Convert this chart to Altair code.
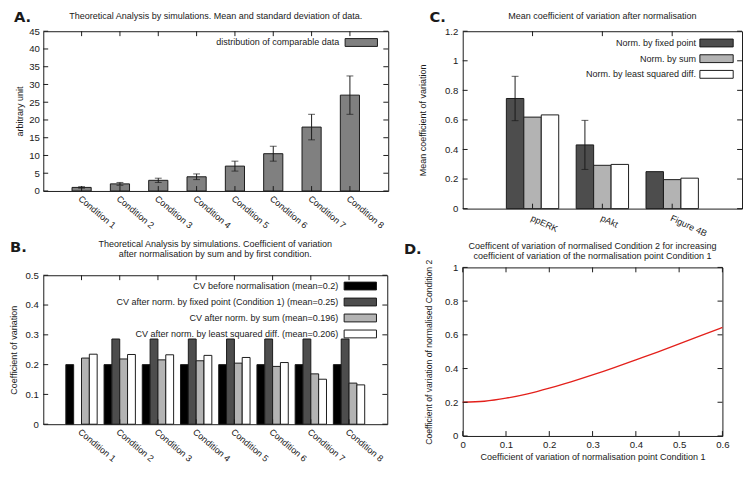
import json
import altair as alt
import pandas as pd

FONT = "Liberation Sans"
LETTER_FONT = "DejaVu Sans"
INK = "#1a1a1a"
TXT = 9.2

# ---------------- Panel A data ----------------
conditions = ["Condition 1", "Condition 2", "Condition 3", "Condition 4",
              "Condition 5", "Condition 6", "Condition 7", "Condition 8"]
a_mean = [1.0, 2.0, 3.0, 4.0, 7.0, 10.5, 18.0, 27.0]
a_sd = [0.2, 0.4, 0.6, 0.8, 1.4, 2.1, 3.6, 5.4]
a_yticks = [0, 5, 10, 15, 20, 25, 30, 35, 40, 45]
a_legend = ["distribution of comparable data"]
a_colors = ["#808080"]
a_title = "Theoretical Analysis by simulations. Mean and standard deviation of data."

# ---------------- Panel B data ----------------
b_series = ["CV before normalisation (mean=0.2)",
            "CV after norm. by fixed point (Condition 1) (mean=0.25)",
            "CV after norm. by sum (mean=0.196)",
            "CV after norm. by least squared diff. (mean=0.206)"]
b_before = [0.200, 0.200, 0.200, 0.200, 0.200, 0.200, 0.200, 0.200]
b_fixed = [None, 0.286, 0.286, 0.286, 0.286, 0.286, 0.286, 0.286]
b_sum = [0.222, 0.219, 0.216, 0.213, 0.205, 0.194, 0.169, 0.138]
b_lsq = [0.235, 0.234, 0.233, 0.231, 0.224, 0.207, 0.151, 0.132]
b_colors = ["#000000", "#4d4d4d", "#b3b3b3", "#ffffff"]
b_yticks = [0, 0.1, 0.2, 0.3, 0.4, 0.5]
b_title = ["Theoretical Analysis by simulations. Coefficient of variation",
           "after normalisation by sum and by first condition."]

# ---------------- Panel C data ----------------
c_groups = ["ppERK", "pAkt", "Figure 4B"]
c_series = ["Norm. by fixed point", "Norm. by sum", "Norm. by least squared diff."]
c_fixed = [0.745, 0.431, 0.250]
c_fixed_sd = [0.150, 0.166, 0.0]
c_sum = [0.619, 0.293, 0.196]
c_lsq = [0.634, 0.299, 0.206]
c_colors = ["#4d4d4d", "#b3b3b3", "#ffffff"]
c_yticks = [0, 0.2, 0.4, 0.6, 0.8, 1.0, 1.2]
c_title = "Mean coefficient of variation after normalisation"

# ---------------- Panel D data ----------------
d_x = [0.00, 0.05, 0.10, 0.15, 0.20, 0.25, 0.30, 0.35, 0.40, 0.45, 0.50, 0.55, 0.60]
d_y = [0.200, 0.206, 0.224, 0.250, 0.284, 0.321, 0.362, 0.406, 0.452, 0.498, 0.546, 0.595, 0.644]
d_xticks = [0, 0.1, 0.2, 0.3, 0.4, 0.5, 0.6]
d_yticks = [0, 0.2, 0.4, 0.6, 0.8, 1.0]
d_title = ["Coefficent of variation of normalised Condition 2 for increasing",
           "coefficient of variation of the normalisation point Condition 1"]

ONE = pd.DataFrame({"k": [0]})


def text_layer(text, x, y, size=TXT, weight="normal", align="center", font=FONT, line_height=10):
    return alt.Chart(ONE).mark_text(
        text=text, align=align, baseline="middle", fontSize=size, fontWeight=weight,
        font=font, color=INK, lineHeight=line_height
    ).encode(x=alt.value(x), y=alt.value(y))


def legend_layers(names, colors, W, text_right, box_l, box_r, y0, dy, size=TXT):
    out = []
    for i, (n, c) in enumerate(zip(names, colors)):
        yc = y0 + i * dy
        out.append(text_layer(n, W - text_right, yc, size=size, align="right"))
        out.append(alt.Chart(ONE).mark_rect(fill=c, stroke=INK, strokeWidth=1).encode(
            x=alt.value(W - box_l), x2=alt.value(W - box_r),
            y=alt.value(yc - 4), y2=alt.value(yc + 4)))
    return out


def frame_ticks(x_df, x_enc, y_df, y_enc, W, H, L=5):
    r = dict(color=INK, strokeWidth=1)
    return [
        alt.Chart(x_df).mark_rule(**r).encode(x=x_enc, y=alt.value(H - L), y2=alt.value(H)),
        alt.Chart(x_df).mark_rule(**r).encode(x=x_enc, y=alt.value(0), y2=alt.value(L)),
        alt.Chart(y_df).mark_rule(**r).encode(y=y_enc, x=alt.value(0), x2=alt.value(L)),
        alt.Chart(y_df).mark_rule(**r).encode(y=y_enc, x=alt.value(W - L), x2=alt.value(W)),
    ]


def cat_axis(names, angle, padding, size=TXT):
    return alt.Axis(values=list(range(1, len(names) + 1)), title=None,
                    labelExpr=json.dumps(names) + "[datum.value - 1]",
                    labelAngle=angle, labelAlign="left", labelBaseline="top",
                    labelPadding=padding, labelOverlap=False, labelFlush=False,
                    labelFontSize=size)


# ======================= Panel A =======================
WA, HA = 352, 163
a_pos = list(range(1, len(conditions) + 1))
a_half = 0.25
dfA = pd.DataFrame({"pos": a_pos, "val": a_mean,
                    "x0": [p - a_half for p in a_pos], "x1": [p + a_half for p in a_pos],
                    "lo": [m - s for m, s in zip(a_mean, a_sd)],
                    "hi": [m + s for m, s in zip(a_mean, a_sd)]})
xA_scale = alt.Scale(domain=[0, len(conditions) + 1], nice=False, zero=False)
xA_axis = cat_axis(conditions, 40, 3)
yA_scale = alt.Scale(domain=[0, 45], nice=False)
yA_axis = alt.Axis(values=a_yticks, format="~g", title="arbitrary unit", titlePadding=4,
                   labelPadding=4, labelFlush=False)
yA = lambda f: alt.Y(f, scale=yA_scale, axis=yA_axis)
xA = lambda f: alt.X(f, scale=xA_scale, axis=xA_axis)

A_layers = [
    alt.Chart(dfA).mark_rect(color=a_colors[0], stroke=INK, strokeWidth=1).encode(
        x=xA("x0:Q"), x2="x1:Q", y=yA("val:Q"), y2=alt.datum(0)),
    alt.Chart(dfA).mark_rule(color=INK, strokeWidth=1).encode(
        x=xA("pos:Q"), y=yA("lo:Q"), y2="hi:Q"),
    alt.Chart(dfA).mark_tick(color=INK, size=7, thickness=1, orient="horizontal").encode(
        x=xA("pos:Q"), y=yA("lo:Q")),
    alt.Chart(dfA).mark_tick(color=INK, size=7, thickness=1, orient="horizontal").encode(
        x=xA("pos:Q"), y=yA("hi:Q")),
]
A_layers += frame_ticks(pd.DataFrame({"pos": a_pos}), xA("pos:Q"),
                        pd.DataFrame({"val": a_yticks}), yA("val:Q"), WA, HA)
A_layers += legend_layers(a_legend, a_colors, WA, 50, 44, 11, 11.5, 16)
A_layers.append(text_layer(a_title, WA / 2, -15))
A_layers.append(text_layer("A.", -30, -14, size=15, weight="bold", align="left", font=LETTER_FONT))
chartA = alt.layer(*A_layers).properties(width=WA, height=HA)

# ======================= Panel B =======================
WB, HB = 351, 152
b_group = 0.82
b_bar = b_group / len(b_series)
rows = []
for k, (s, col, vals) in enumerate(zip(b_series, b_colors, [b_before, b_fixed, b_sum, b_lsq])):
    for i, v in enumerate(vals):
        if v is not None:
            left_edge = (i + 1) - b_group / 2 + k * b_bar
            rows.append({"series": s, "fill": col, "val": v, "x0": left_edge, "x1": left_edge + b_bar})
dfB = pd.DataFrame(rows)
xB_scale = alt.Scale(domain=[0, len(conditions) + 1], nice=False, zero=False)
xB_axis = cat_axis(conditions, 40, 3)
yB_scale = alt.Scale(domain=[0, 0.5], nice=False)
yB_axis = alt.Axis(values=b_yticks, format="~g", title="Coefficient of variation", titlePadding=7,
                   labelPadding=5, labelFlush=False)
xB = lambda f: alt.X(f, scale=xB_scale, axis=xB_axis)
yB = lambda f: alt.Y(f, scale=yB_scale, axis=yB_axis)
B_layers = [
    alt.Chart(dfB).mark_rect(stroke=INK, strokeWidth=1).encode(
        x=xB("x0:Q"), x2="x1:Q", y=yB("val:Q"), y2=alt.datum(0),
        fill=alt.Fill("fill:N", scale=None)),
]
B_layers += frame_ticks(pd.DataFrame({"pos": a_pos}), xB("pos:Q"),
                        pd.DataFrame({"val": b_yticks}), yB("val:Q"), WB, HB)
B_layers += legend_layers(b_series, b_colors, WB, 50, 44, 11, 11, 16.3)
B_layers.append(text_layer(b_title, WB / 2, -32, line_height=10.5))
B_layers.append(text_layer("B.", -34, -29, size=15, weight="bold", align="left", font=LETTER_FONT))
chartB = alt.layer(*B_layers).properties(width=WB, height=HB)

# ======================= Panel C =======================
WC, HC = 285, 181
c_group = 0.75
c_bar = c_group / len(c_series)
c_pos = list(range(1, len(c_groups) + 1))
rows = []
for k, (s, col, vals) in enumerate(zip(c_series, c_colors, [c_fixed, c_sum, c_lsq])):
    for i, v in enumerate(vals):
        left_edge = (i + 1) - c_group / 2 + k * c_bar
        rows.append({"series": s, "fill": col, "val": v, "x0": left_edge, "x1": left_edge + c_bar})
dfC = pd.DataFrame(rows)
dfCerr = pd.DataFrame({"pos": [p - c_group / 2 + c_bar / 2 for p in c_pos],
                       "lo": [m - s for m, s in zip(c_fixed, c_fixed_sd)],
                       "hi": [m + s for m, s in zip(c_fixed, c_fixed_sd)]})
dfCerr = dfCerr[dfCerr["hi"] > dfCerr["lo"]]
xC_scale = alt.Scale(domain=[0, len(c_groups) + 1], nice=False, zero=False)
xC_axis = cat_axis(c_groups, 25, 5)
yC_scale = alt.Scale(domain=[0, 1.2], nice=False)
yC_axis = alt.Axis(values=c_yticks, format="~g", title="Mean coefficient of variation",
                   titlePadding=17, labelPadding=5, labelFlush=False)
xC = lambda f: alt.X(f, scale=xC_scale, axis=xC_axis)
yC = lambda f: alt.Y(f, scale=yC_scale, axis=yC_axis)
C_layers = [
    alt.Chart(dfC).mark_rect(stroke=INK, strokeWidth=1).encode(
        x=xC("x0:Q"), x2="x1:Q", y=yC("val:Q"), y2=alt.datum(0),
        fill=alt.Fill("fill:N", scale=None)),
    alt.Chart(dfCerr).mark_rule(color=INK, strokeWidth=1).encode(
        x=xC("pos:Q"), y=yC("lo:Q"), y2="hi:Q"),
    alt.Chart(dfCerr).mark_tick(color=INK, size=7, thickness=1, orient="horizontal").encode(
        x=xC("pos:Q"), y=yC("lo:Q")),
    alt.Chart(dfCerr).mark_tick(color=INK, size=7, thickness=1, orient="horizontal").encode(
        x=xC("pos:Q"), y=yC("hi:Q")),
]
C_layers += frame_ticks(pd.DataFrame({"pos": c_pos}), xC("pos:Q"),
                        pd.DataFrame({"val": c_yticks}), yC("val:Q"), WC, HC)
C_layers += legend_layers(c_series, c_colors, WC, 47, 43, 9, 12, 16)
C_layers.append(text_layer(c_title, WC / 2, -15))
C_layers.append(text_layer("C.", -34, -14, size=15, weight="bold", align="left", font=LETTER_FONT))
chartC = alt.layer(*C_layers).properties(width=WC, height=HC)

# ======================= Panel D =======================
WD, HD = 265, 172
dfD = pd.DataFrame({"x": d_x, "y": d_y})
xD_scale = alt.Scale(domain=[0, 0.6], nice=False)
yD_scale = alt.Scale(domain=[0, 1], nice=False)
xD_axis = alt.Axis(values=d_xticks, format="~g",
                   title="Coefficient of variation of normalisation point Condition 1",
                   labelPadding=4, titlePadding=3, labelFlush=False)
yD_axis = alt.Axis(values=d_yticks, format="~g",
                   title="Coefficient of variation of normalised Condition 2",
                   labelPadding=5, titlePadding=11, labelFlush=False, titleFontSize=8.8)
D_layers = [
    alt.Chart(dfD).mark_line(color="#e3201b", strokeWidth=1.3, interpolate="natural").encode(
        x=alt.X("x:Q", scale=xD_scale, axis=xD_axis),
        y=alt.Y("y:Q", scale=yD_scale, axis=yD_axis)),
]
D_layers += frame_ticks(pd.DataFrame({"x": d_xticks}), alt.X("x:Q", scale=xD_scale, axis=xD_axis),
                        pd.DataFrame({"y": d_yticks}), alt.Y("y:Q", scale=yD_scale, axis=yD_axis),
                        WD, HD)
D_layers.append(text_layer(d_title, WD / 2, -22, line_height=10))
D_layers.append(text_layer("D.", -60, -19, size=15, weight="bold", align="left", font=LETTER_FONT))
chartD = alt.layer(*D_layers).properties(width=WD, height=HD)

left = alt.concat(chartA, chartB, columns=1, align="none", spacing=8)
right = alt.concat(chartC, chartD, columns=1, align="none", spacing=2)
chart = alt.hconcat(left, right, spacing=14).properties(
    padding={"left": 0, "top": -3, "right": 0, "bottom": 0}, background="white"
).configure_view(
    stroke=INK, strokeWidth=1
).configure_axis(
    domain=False, ticks=False, grid=False,
    labelFont=FONT, labelFontSize=9.8, labelColor=INK,
    titleFont=FONT, titleFontSize=TXT, titleFontWeight="normal", titleColor=INK
)

chart.save("out.html", embed_options={"renderer": "svg", "actions": False})
